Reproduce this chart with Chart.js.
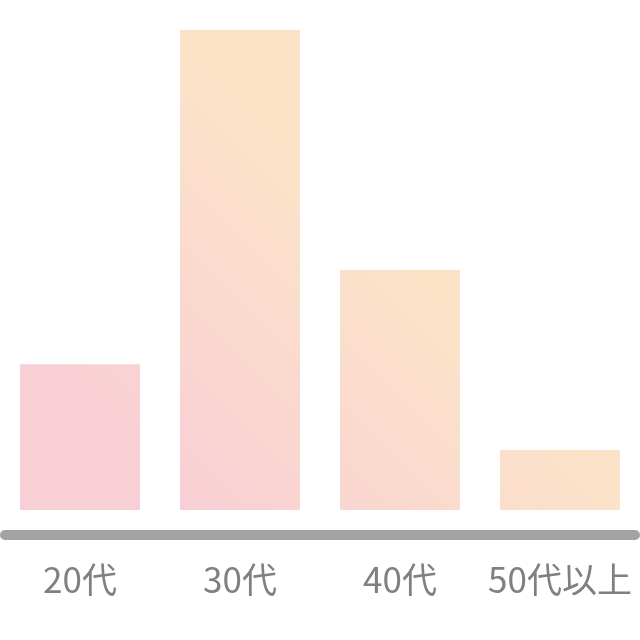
<!DOCTYPE html>
<html>
<head>
<meta charset="utf-8">
<script src="https://cdn.jsdelivr.net/npm/chart.js@4"></script>
<style>
  html, body { margin: 0; padding: 0; background: #fff; }
  #wrap { width: 640px; height: 640px; }
</style>
</head>
<body>
<div id="wrap"><canvas id="ageChart"></canvas></div>
<script>
// 年代別の割合
const ageLabels = ['20代', '30代', '40代', '50代以上'];
const ageValues = [24.3, 80, 40, 10];
const axisMax = 85;

// 棒のグラデーション（左下ピンク → 右上ピーチ）
function barGradient(context) {
  const chart = context.chart;
  const { ctx } = chart;
  const g = ctx.createLinearGradient(0, chart.height, chart.width, 0);
  g.addColorStop(0.25, '#f8cfd5');
  g.addColorStop(0.6, '#fce3c8');
  g.addColorStop(1, '#fce3c8');
  return g;
}

// x軸の下の太いグレー線
const baseLine = {
  id: 'baseLine',
  afterDraw(chart) {
    const { ctx, chartArea } = chart;
    const y = chartArea.bottom + 25;
    ctx.save();
    ctx.strokeStyle = '#a3a3a3';
    ctx.lineWidth = 10;
    ctx.lineCap = 'round';
    ctx.beginPath();
    ctx.moveTo(5, y);
    ctx.lineTo(chart.width - 5, y);
    ctx.stroke();
    ctx.restore();
  }
};

new Chart(document.getElementById('ageChart'), {
  type: 'bar',
  data: {
    labels: ageLabels,
    datasets: [{
      data: ageValues,
      backgroundColor: barGradient,
      borderWidth: 0,
      categoryPercentage: 1,
      barPercentage: 0.75
    }]
  },
  options: {
    responsive: true,
    maintainAspectRatio: false,
    animation: false,
    layout: { padding: 0 },
    plugins: {
      legend: { display: false },
      tooltip: { enabled: false }
    },
    scales: {
      y: {
        display: false,
        min: 0,
        max: axisMax
      },
      x: {
        grid: { display: false, drawTicks: false },
        border: { display: false },
        ticks: {
          color: '#808080',
          padding: 49,
          autoSkip: false,
          maxRotation: 0,
          minRotation: 0,
          font: { family: '"Noto Sans CJK JP", sans-serif', size: 35 }
        },
        afterFit(scale) {
          scale.height = 130;
          scale.paddingLeft = 0;
          scale.paddingRight = 0;
        }
      }
    }
  },
  plugins: [baseLine]
});
</script>
</body>
</html>
